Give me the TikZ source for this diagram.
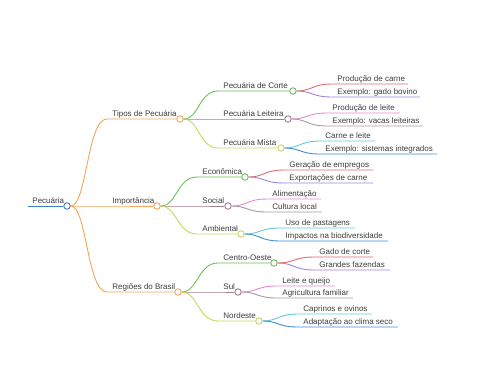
\documentclass[tikz,border=0pt]{standalone}
\usepackage{fontspec}
\setmainfont{Liberation Sans}
\definecolor{txt}{HTML}{3C3C3C}
\definecolor{rootc}{HTML}{3F7FC4}
\definecolor{orng}{HTML}{F4A55A}
\definecolor{grn}{HTML}{6DBE5A}
\definecolor{mauve}{HTML}{A67D8E}
\definecolor{lime}{HTML}{C9D558}
\definecolor{redc}{HTML}{E06B6B}
\definecolor{purp}{HTML}{9E86DA}
\definecolor{pinkc}{HTML}{E48BCB}
\definecolor{greym}{HTML}{A898A6}
\definecolor{cyanc}{HTML}{62C7E0}
\definecolor{bluec}{HTML}{3C8FD2}
\begin{document}
\begin{tikzpicture}[x=1pt,y=-1pt,line width=0.9pt,
	knob/.style={circle,draw,fill=white,line width=0.9pt,inner sep=0pt,minimum size=6.5pt},
	lbl/.style={anchor=base west,inner sep=0pt,text=txt,font=\fontsize{8}{9}\selectfont}]
	\useasboundingbox (0,0) rectangle (480,384);
	% raiz
	\node[knob,draw=rootc] (pec) at (67,206) {};
	\coordinate (pecS) at (28,206);
	\draw[rootc] (pecS) -- (pec);
	\node[lbl] (pecT) at (32,203) {Pecuária};
	% primeiro nivel
	\node[knob,draw=orng] (tipos) at (180,119) {};
	\coordinate (tiposS) at (107,119);
	\draw[orng] (pec) .. controls (87,206) and (87,119) .. (tiposS) -- (tipos);
	\node[lbl] (tiposT) at (112,116) {Tipos de Pecuária};
	\node[knob,draw=orng] (imp) at (157,206) {};
	\coordinate (impS) at (107,206);
	\draw[orng] (pec) -- (impS) -- (imp);
	\node[lbl] (impT) at (112,203) {Importância};
	\node[knob,draw=orng] (reg) at (178,292) {};
	\coordinate (regS) at (107,292);
	\draw[orng] (pec) .. controls (87,206) and (87,292) .. (regS) -- (reg);
	\node[lbl] (regT) at (112,289) {Regiões do Brasil};
	% tipos de pecuaria
	\node[knob,draw=grn] (corte) at (293,91) {};
	\coordinate (corteS) at (218,91);
	\draw[grn] (tipos) .. controls (199,119) and (199,91) .. (corteS) -- (corte);
	\node[lbl] (corteT) at (223,88) {Pecuária de Corte};
	\node[knob,draw=mauve] (leit) at (288,119) {};
	\coordinate (leitS) at (218,119);
	\draw[mauve] (tipos) -- (leitS) -- (leit);
	\node[lbl] (leitT) at (223,116) {Pecuária Leiteira};
	\node[knob,draw=lime] (mista) at (281,148) {};
	\coordinate (mistaS) at (218,148);
	\draw[lime] (tipos) .. controls (199,119) and (199,148) .. (mistaS) -- (mista);
	\node[lbl] (mistaT) at (223,145) {Pecuária Mista};
	% folhas: corte
	\coordinate (c1) at (332,84); \coordinate (c1E) at (408,84);
	\draw[redc] (corte) .. controls (312,91) and (312,84) .. (c1) -- (c1E);
	\node[lbl] (c1T) at (337,81) {Produção de carne};
	\coordinate (c2) at (332,97); \coordinate (c2E) at (420,97);
	\draw[purp] (corte) .. controls (312,91) and (312,97) .. (c2) -- (c2E);
	\node[lbl] (c2T) at (337,94) {Exemplo: gado bovino};
	% folhas: leiteira
	\coordinate (l1) at (327,113); \coordinate (l1E) at (400,113);
	\draw[pinkc] (leit) .. controls (307,119) and (307,113) .. (l1) -- (l1E);
	\node[lbl] (l1T) at (332,110) {Produção de leite};
	\coordinate (l2) at (327,126); \coordinate (l2E) at (423,126);
	\draw[greym] (leit) .. controls (307,119) and (307,126) .. (l2) -- (l2E);
	\node[lbl] (l2T) at (332,123) {Exemplo: vacas leiteiras};
	% folhas: mista
	\coordinate (m1) at (320,141); \coordinate (m1E) at (375,141);
	\draw[cyanc] (mista) .. controls (300,148) and (300,141) .. (m1) -- (m1E);
	\node[lbl] (m1T) at (325,138) {Carne e leite};
	\coordinate (m2) at (320,154); \coordinate (m2E) at (437,154);
	\draw[bluec] (mista) .. controls (300,148) and (300,154) .. (m2) -- (m2E);
	\node[lbl] (m2T) at (325,151) {Exemplo: sistemas integrados};
	% importancia
	\node[knob,draw=grn] (eco) at (245,177) {};
	\coordinate (ecoS) at (197,177);
	\draw[grn] (imp) .. controls (177,206) and (177,177) .. (ecoS) -- (eco);
	\node[lbl] (ecoT) at (202,174) {Econômica};
	\node[knob,draw=mauve] (soc) at (228,206) {};
	\coordinate (socS) at (197,206);
	\draw[mauve] (imp) -- (socS) -- (soc);
	\node[lbl] (socT) at (202,203) {Social};
	\node[knob,draw=lime] (amb) at (241,234) {};
	\coordinate (ambS) at (197,234);
	\draw[lime] (imp) .. controls (177,206) and (177,234) .. (ambS) -- (amb);
	\node[lbl] (ambT) at (202,231) {Ambiental};
	% folhas: economica
	\coordinate (e1) at (284,170); \coordinate (e1E) at (373,170);
	\draw[redc] (eco) .. controls (264,177) and (264,170) .. (e1) -- (e1E);
	\node[lbl] (e1T) at (289,167) {Geração de empregos};
	\coordinate (e2) at (284,183); \coordinate (e2E) at (373,183);
	\draw[purp] (eco) .. controls (264,177) and (264,183) .. (e2) -- (e2E);
	\node[lbl] (e2T) at (289,180) {Exportações de carne};
	% folhas: social
	\coordinate (s1) at (267,199); \coordinate (s1E) at (321,199);
	\draw[pinkc] (soc) .. controls (247,206) and (247,199) .. (s1) -- (s1E);
	\node[lbl] (s1T) at (272,196) {Alimentação};
	\coordinate (s2) at (267,212); \coordinate (s2E) at (322,212);
	\draw[greym] (soc) .. controls (247,206) and (247,212) .. (s2) -- (s2E);
	\node[lbl] (s2T) at (272,209) {Cultura local};
	% folhas: ambiental
	\coordinate (a1) at (280,228); \coordinate (a1E) at (355,228);
	\draw[cyanc] (amb) .. controls (260,234) and (260,228) .. (a1) -- (a1E);
	\node[lbl] (a1T) at (285,225) {Uso de pastagens};
	\coordinate (a2) at (280,241); \coordinate (a2E) at (388,241);
	\draw[bluec] (amb) .. controls (260,234) and (260,241) .. (a2) -- (a2E);
	\node[lbl] (a2T) at (285,238) {Impactos na biodiversidade};
	% regioes do brasil
	\node[knob,draw=grn] (co) at (274,263) {};
	\coordinate (coS) at (218,263);
	\draw[grn] (reg) .. controls (198,292) and (198,263) .. (coS) -- (co);
	\node[lbl] (coT) at (223,260) {Centro-Oeste};
	\node[knob,draw=mauve] (sul) at (238,292) {};
	\coordinate (sulS) at (218,292);
	\draw[mauve] (reg) -- (sulS) -- (sul);
	\node[lbl] (sulT) at (223,289) {Sul};
	\node[knob,draw=lime] (ne) at (259,321) {};
	\coordinate (neS) at (218,321);
	\draw[lime] (reg) .. controls (198,292) and (198,321) .. (neS) -- (ne);
	\node[lbl] (neT) at (223,318) {Nordeste};
	% folhas: centro-oeste
	\coordinate (o1) at (314,257); \coordinate (o1E) at (373,257);
	\draw[redc] (co) .. controls (294,263) and (294,257) .. (o1) -- (o1E);
	\node[lbl] (o1T) at (319,254) {Gado de corte};
	\coordinate (o2) at (314,270); \coordinate (o2E) at (390,270);
	\draw[purp] (co) .. controls (294,263) and (294,270) .. (o2) -- (o2E);
	\node[lbl] (o2T) at (319,267) {Grandes fazendas};
	% folhas: sul
	\coordinate (u1) at (277,286); \coordinate (u1E) at (335,286);
	\draw[pinkc] (sul) .. controls (257,292) and (257,286) .. (u1) -- (u1E);
	\node[lbl] (u1T) at (282,283) {Leite e queijo};
	\coordinate (u2) at (277,298); \coordinate (u2E) at (353,298);
	\draw[greym] (sul) .. controls (257,292) and (257,298) .. (u2) -- (u2E);
	\node[lbl] (u2T) at (282,295) {Agricultura familiar};
	% folhas: nordeste
	\coordinate (n1) at (298,314); \coordinate (n1E) at (372,314);
	\draw[cyanc] (ne) .. controls (278,321) and (278,314) .. (n1) -- (n1E);
	\node[lbl] (n1T) at (303,311) {Caprinos e ovinos};
	\coordinate (n2) at (298,327); \coordinate (n2E) at (398,327);
	\draw[bluec] (ne) .. controls (278,321) and (278,327) .. (n2) -- (n2E);
	\node[lbl] (n2T) at (303,324) {Adaptação ao clima seco};
\end{tikzpicture}
\end{document}
